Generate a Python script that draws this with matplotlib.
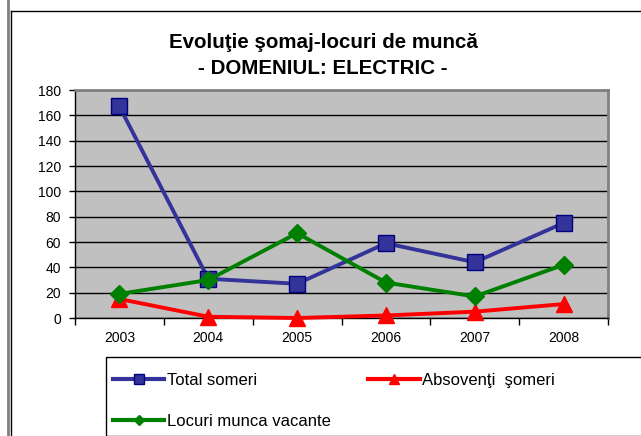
import matplotlib
matplotlib.use("Agg")
import matplotlib.pyplot as plt
from matplotlib.lines import Line2D
from matplotlib.patches import Rectangle

years = ["2003", "2004", "2005", "2006", "2007", "2008"]
total_someri = [167, 31, 27, 59, 44, 75]
absolventi_someri = [15, 1, 0, 2, 5, 11]
locuri_vacante = [19, 30, 67, 28, 17, 42]
y_ticks = [0, 20, 40, 60, 80, 100, 120, 140, 160, 180]

plt.rcParams['font.family'] = ['Liberation Sans', 'DejaVu Sans']

W, H = 641, 436
fig = plt.figure(figsize=(W / 100, H / 100), dpi=100)
fig.patch.set_facecolor('white')

def fx(px):
    return px / W

def fy(py):
    return 1 - py / H

# outer decorations
fig.add_artist(Line2D([fx(8), fx(8)], [0, 1], color='#808080', lw=2.0, transform=fig.transFigure))
fig.add_artist(Line2D([fx(10.5), fx(10.5)], [0, fy(11)], color='black', lw=1.0, transform=fig.transFigure))
fig.add_artist(Line2D([fx(10.5), 1], [fy(11), fy(11)], color='black', lw=1.0, transform=fig.transFigure))

ax = fig.add_axes([fx(75), fy(318), fx(608) - fx(75), fy(90) - fy(318)])
ax.set_facecolor('#C0C0C0')

x = list(range(len(years)))
ax.plot(x, absolventi_someri, color='#FF0000', lw=2.8, marker='^', markersize=11.5,
        markerfacecolor='#FF0000', markeredgecolor='#FF0000', zorder=3, clip_on=False)
ax.plot(x, total_someri, color='#333399', lw=2.8, marker='s', markersize=11.5,
        markerfacecolor='#333399', markeredgecolor='#000080', zorder=4, clip_on=False)
ax.plot(x, locuri_vacante, color='#008000', lw=2.8, marker='D', markersize=9.5,
        markerfacecolor='#008000', markeredgecolor='#008000', zorder=5, clip_on=False)

ax.set_xlim(-0.5, len(years) - 0.5)
ax.set_ylim(0, 180)
ax.set_yticks(y_ticks)
ax.set_yticklabels([str(v) for v in y_ticks], fontsize=10)
ax.yaxis.grid(True, color='black', lw=1.0)
ax.set_axisbelow(True)
ax.tick_params(axis='y', length=4, width=1, pad=6, color='black')

ax.set_xticks(x)
ax.set_xticklabels(years, fontsize=10)
ax.set_xticks([i - 0.5 for i in range(len(years) + 1)], minor=True)
ax.tick_params(axis='x', which='major', length=0, pad=9)
ax.tick_params(axis='x', which='minor', length=5, width=1, color='black')

for s in ['left', 'bottom']:
    ax.spines[s].set_color('black')
    ax.spines[s].set_linewidth(1.0)
for s in ['top', 'right']:
    ax.spines[s].set_color('#808080')
    ax.spines[s].set_linewidth(2.0)

fig.text(fx(323), fy(43), "Evoluţie şomaj-locuri de muncă", ha='center', va='center',
         fontsize=14.8, fontweight='bold')
fig.text(fx(323), fy(68), "- DOMENIUL: ELECTRIC -", ha='center', va='center',
         fontsize=14.8, fontweight='bold')

# legend box
fig.add_artist(Rectangle((fx(106), 0), 1.1, fy(357), transform=fig.transFigure,
                         facecolor='white', edgecolor='black', lw=1.0, clip_on=False))

handles = [
    Line2D([], [], color='#333399', lw=3, marker='s', markersize=7,
           markerfacecolor='#333399', markeredgecolor='#000080'),
    Line2D([], [], color='#008000', lw=3, marker='D', markersize=5,
           markerfacecolor='#008000', markeredgecolor='#008000'),
    Line2D([], [], color='#FF0000', lw=3, marker='^', markersize=7,
           markerfacecolor='#FF0000', markeredgecolor='#FF0000'),
]
labels = ["Total someri", "Locuri munca vacante", "Absovenţi  şomeri"]
fig.legend(handles, labels, ncol=2, frameon=False, fontsize=12,
           loc='upper left', bbox_to_anchor=(fx(106), fy(366)),
           handlelength=3.1, handletextpad=0.15, columnspacing=2.25,
           labelspacing=1.55, borderaxespad=0)

fig.savefig('out.png', dpi=100)
